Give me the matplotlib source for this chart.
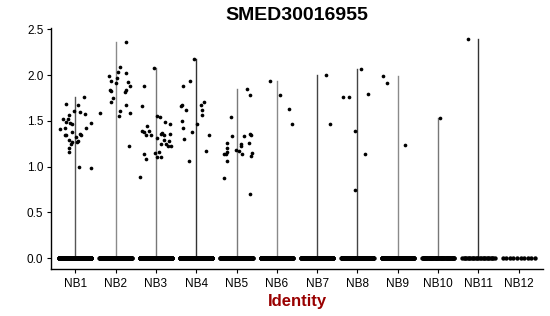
import matplotlib
matplotlib.use("Agg")
import matplotlib.pyplot as plt
import numpy as np

plt.rcParams["font.family"] = ["Liberation Sans", "DejaVu Sans"]

GROUPS = ["NB1", "NB2", "NB3", "NB4", "NB5", "NB6", "NB7", "NB8", "NB9", "NB10", "NB11", "NB12"]

# number of cells with zero expression per group (estimated)
ZERO_COUNTS = [300, 280, 280, 300, 280, 200, 200, 200, 150, 60, 25, 10]

# non-zero cells: (jitter offset, expression) per group
NB1_VALS = [(0.22, 1.76), (-0.22, 1.68), (0.06, 1.67), (-0.04, 1.61), (0.13, 1.60),
            (0.25, 1.57), (-0.15, 1.56), (-0.30, 1.52), (-0.18, 1.52), (-0.22, 1.49),
            (-0.13, 1.48), (-0.07, 1.47), (0.38, 1.48), (-0.38, 1.41), (-0.25, 1.42),
            (0.28, 1.42), (-0.08, 1.38), (-0.22, 1.35), (-0.26, 1.34), (0.13, 1.36),
            (0.15, 1.34), (0.03, 1.32), (-0.15, 1.29), (0.08, 1.28), (0.05, 1.27),
            (-0.07, 1.27), (-0.10, 1.25), (-0.15, 1.20), (-0.15, 1.16), (0.10, 0.99),
            (0.38, 0.98)]
NB2_VALS = [(0.27, 2.365), (0.12, 2.09), (0.07, 2.03), (0.27, 2.02), (-0.17, 1.99),
            (0.04, 1.97), (-0.11, 1.94), (0.32, 1.92), (0.02, 1.91), (0.37, 1.88),
            (-0.14, 1.84), (-0.10, 1.83), (0.27, 1.84), (0.23, 1.82), (-0.07, 1.75),
            (-0.12, 1.71), (0.27, 1.67), (0.12, 1.61), (0.37, 1.59), (0.08, 1.55),
            (-0.38, 1.59), (0.34, 1.22)]
NB3_VALS = [(-0.05, 2.08), (-0.30, 1.88), (-0.34, 1.66), (0.03, 1.55), (0.11, 1.54),
            (0.23, 1.49), (0.36, 1.47), (-0.22, 1.44), (-0.18, 1.39), (-0.35, 1.39),
            (-0.29, 1.375), (-0.24, 1.35), (-0.12, 1.35), (0.16, 1.37), (0.13, 1.36),
            (0.20, 1.34), (0.35, 1.36), (0.04, 1.31), (0.21, 1.29), (0.33, 1.28),
            (0.13, 1.25), (0.26, 1.25), (0.31, 1.22), (0.37, 1.22), (-0.02, 1.15),
            (0.09, 1.16), (-0.30, 1.14), (-0.24, 1.08), (0.03, 1.10), (0.13, 1.10),
            (-0.40, 0.89)]
NB4_VALS = [(-0.06, 2.18), (-0.16, 1.94), (-0.33, 1.88), (-0.37, 1.66), (-0.34, 1.67),
            (-0.26, 1.62), (0.19, 1.71), (0.12, 1.67), (0.14, 1.62), (0.15, 1.56),
            (-0.34, 1.50), (-0.33, 1.42), (0.02, 1.46), (-0.10, 1.38), (0.32, 1.35),
            (-0.29, 1.30), (0.24, 1.17), (-0.19, 1.06)]
NB5_VALS = [(0.25, 1.85), (0.33, 1.78), (-0.14, 1.54), (-0.10, 1.33), (0.18, 1.33),
            (0.33, 1.36), (0.35, 1.35), (-0.23, 1.26), (-0.24, 1.20), (0.11, 1.25),
            (0.11, 1.22), (0.31, 1.26), (-0.23, 1.16), (-0.27, 1.14), (-0.02, 1.18),
            (0.05, 1.17), (0.14, 1.14), (0.39, 1.15), (0.36, 1.12), (-0.23, 1.06),
            (-0.30, 0.88), (0.34, 0.705), (-0.32, 1.14)]
NB6_VALS = [(-0.17, 1.94), (0.09, 1.78), (0.30, 1.63), (0.38, 1.47)]
NB7_VALS = [(0.23, 2.00), (0.31, 1.47)]
NB8_VALS = [(0.09, 2.07), (-0.35, 1.76), (-0.21, 1.76), (0.26, 1.79), (-0.06, 1.39),
            (0.18, 1.14), (-0.06, 0.74)]
NB9_VALS = [(-0.37, 1.99), (-0.26, 1.91), (0.19, 1.23)]
NB10_VALS = [(0.04, 1.535)]
NB11_VALS = [(-0.25, 2.39)]
NB12_VALS = []

NONZERO = [NB1_VALS, NB2_VALS, NB3_VALS, NB4_VALS, NB5_VALS, NB6_VALS,
           NB7_VALS, NB8_VALS, NB9_VALS, NB10_VALS, NB11_VALS, NB12_VALS]

# shade of each (very thin) violin
VIOLIN_COLORS = ["#555555", "#8a8a8a", "#777777", "#333333", "#7a7a7a", "#8a8a8a",
                 "#444444", "#444444", "#8a8a8a", "#777777", "#333333", "#555555"]


fig = plt.figure(figsize=(5.5, 3.16), dpi=100)
ax = fig.add_axes([51 / 550, 47 / 316, 492 / 550, 240.6 / 316])

for i, (name, nz, n0) in enumerate(zip(GROUPS, NONZERO, ZERO_COUNTS)):
    vmax = max([v for _, v in nz], default=0.0)
    if vmax > 0:
        ax.plot([i, i], [0, vmax], color=VIOLIN_COLORS[i], lw=1.0, zorder=1)
    # zero cells jittered across the group width
    xz = i + np.linspace(-0.4, 0.4, n0)
    ax.scatter(xz, np.zeros(n0), s=10, color="black", linewidths=0, zorder=2)
    if nz:
        offs = np.array([o for o, _ in nz])
        vals = np.array([v for _, v in nz])
        ax.scatter(i + offs, vals, s=7, color="black", linewidths=0, zorder=2)

ax.set_xlim(-0.6, len(GROUPS) - 0.4)
ax.set_ylim(-0.1195, 2.5095)
ax.set_xticks(range(len(GROUPS)))
ax.set_xticklabels(GROUPS)
ax.set_yticks([0, 0.5, 1.0, 1.5, 2.0, 2.5])
ax.set_yticklabels(["0.0", "0.5", "1.0", "1.5", "2.0", "2.5"])

for side in ["top", "right"]:
    ax.spines[side].set_visible(False)
for side in ["left", "bottom"]:
    ax.spines[side].set_linewidth(1.0)
    ax.spines[side].set_color("black")
ax.tick_params(axis="both", length=3, width=0.8, labelsize=8.5, pad=2.5, colors="black")
ax.tick_params(axis="x", pad=3.5)

ax.set_title("SMED30016955", fontsize=14, fontweight="bold", pad=6)
ax.set_xlabel("Identity", fontsize=12, fontweight="bold", color="#990000", labelpad=3)

fig.savefig("out.png", dpi=100)
